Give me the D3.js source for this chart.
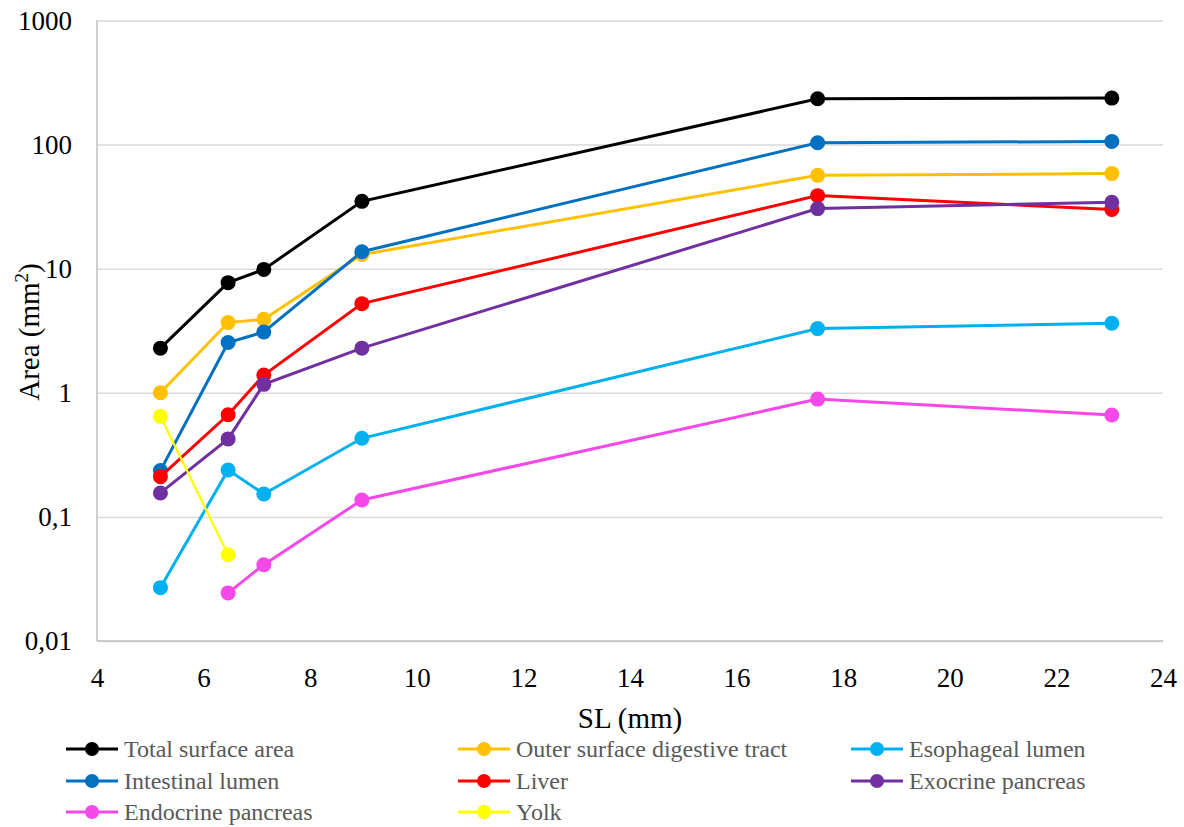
<!DOCTYPE html>
<html>
<head>
<meta charset="utf-8">
<script src="https://cdn.jsdelivr.net/npm/d3@7"></script>
<style>
  body { margin: 0; background: #fff; }
</style>
</head>
<body>
<div id="container"></div>
<script>
// SL (mm) for each sampled stage
let sl = [5.19, 6.46, 7.13, 8.97, 17.52, 23.04];

// areas (mm2), null where there is no measurement
let totalSurface = [2.29, 7.72, 9.87, 34.9, 234, 237];
let outerSurface = [1.0, 3.68, 3.91, 13.0, 56.5, 58.4];
let esophageal = [0.0269, 0.239, 0.153, 0.430, 3.29, 3.63];
let intestinal = [0.236, 2.54, 3.09, 13.7, 103.5, 106];
let liver = [0.211, 0.665, 1.39, 5.23, 38.8, 30.0];
let exocrine = [0.156, 0.425, 1.17, 2.29, 30.5, 34.3];
let endocrine = [null, 0.0244, 0.0412, 0.137, 0.89, 0.662];
let yolk = [0.646, 0.0496, null, null, null, null];

let seriesNames = ["Total surface area", "Outer surface digestive tract", "Esophageal lumen",
  "Intestinal lumen", "Liver", "Exocrine pancreas", "Endocrine pancreas", "Yolk"];
let seriesColors = ["#000000", "#FFC000", "#00B0F0", "#0070C0", "#FF0000", "#7030A0", "#F548E8", "#FFFF00"];
let seriesValues = [totalSurface, outerSurface, esophageal, intestinal, liver, exocrine, endocrine, yolk];

let xTicks = [4, 6, 8, 10, 12, 14, 16, 18, 20, 22, 24];
let yTicks = [0.01, 0.1, 1, 10, 100, 1000];
let yTickLabels = ["0,01", "0,1", "1", "10", "100", "1000"];

let w = 1184;
let h = 827;
let padL = 97, padR = 1163, padT = 20.5, padB = 641;
let serif = "'Liberation Serif', 'Times New Roman', serif";

let viz = d3.select("#container")
  .append("svg")
    .attr("width", w)
    .attr("height", h);

let xScale = d3.scaleLinear().domain([4, 24]).range([padL, padR]);
let yScale = d3.scaleLog().domain([0.01, 1000]).range([padB, padT]);

// gridlines + y labels
let yAxis = d3.axisLeft(yScale)
  .tickValues(yTicks)
  .tickSize(-(padR - padL))
  .tickPadding(25)
  .tickFormat((d, i) => yTickLabels[i]);
let yAxisGroup = viz.append("g")
  .attr("transform", "translate(" + padL + ",0)")
  .call(yAxis);
yAxisGroup.select(".domain").remove();
yAxisGroup.selectAll(".tick line").attr("stroke", "#d9d9d9").attr("stroke-width", 1.5);
yAxisGroup.selectAll(".tick text")
  .style("font-family", serif).style("font-size", "27px").attr("fill", "#000");

// x labels
let xAxis = d3.axisBottom(xScale).tickValues(xTicks).tickSize(0).tickPadding(27);
let xAxisGroup = viz.append("g")
  .attr("transform", "translate(0," + padB + ")")
  .call(xAxis);
xAxisGroup.select(".domain").remove();
xAxisGroup.selectAll(".tick text")
  .style("font-family", serif).style("font-size", "27px").attr("fill", "#000");

// axis lines
viz.append("line").attr("x1", padL).attr("x2", padL).attr("y1", padT).attr("y2", padB)
  .attr("stroke", "#bfbfbf").attr("stroke-width", 1.5);
viz.append("line").attr("x1", padL).attr("x2", padR).attr("y1", padB).attr("y2", padB)
  .attr("stroke", "#bfbfbf").attr("stroke-width", 1.5);

// axis titles
viz.append("text")
  .attr("x", (padL + padR) / 2).attr("y", 728)
  .attr("text-anchor", "middle").attr("fill", "#000")
  .style("font-family", serif).style("font-size", "29px")
  .text("SL (mm)");
let yTitle = viz.append("text")
  .attr("transform", "translate(39,332) rotate(-90)")
  .attr("text-anchor", "middle").attr("fill", "#000")
  .style("font-family", serif).style("font-size", "29px");
yTitle.append("tspan").text("Area (mm");
yTitle.append("tspan").style("font-size", "19px").attr("dy", -11).text("2");
yTitle.append("tspan").attr("dy", 11).text(")");

// series
let lineMaker = d3.line()
  .defined(d => d.v != null)
  .x(d => xScale(d.x))
  .y(d => yScale(d.v));

let graphGroup = viz.append("g").attr("class", "graphGroup");
seriesValues.forEach(function(vals, i){
  let pts = vals.map((v, j) => ({x: sl[j], v: v}));
  let g = graphGroup.append("g");
  g.append("path")
    .datum(pts)
    .attr("fill", "none")
    .attr("stroke", seriesColors[i])
    .attr("stroke-width", i == 7 ? 2.25 : 3)
    .attr("d", lineMaker);
  g.selectAll("circle")
    .data(pts.filter(d => d.v != null))
    .enter()
    .append("circle")
      .attr("cx", d => xScale(d.x))
      .attr("cy", d => yScale(d.v))
      .attr("r", 7.5)
      .attr("fill", seriesColors[i]);
});

// legend
let legendCols = [66, 458, 851];
let legendRows = [749, 781, 812];
let legend = viz.append("g");
seriesNames.forEach(function(name, i){
  let lx = legendCols[i % 3];
  let ly = legendRows[Math.floor(i / 3)];
  let item = legend.append("g").attr("transform", "translate(" + lx + "," + ly + ")");
  item.append("line").attr("x1", 0).attr("x2", 52).attr("y1", 0).attr("y2", 0)
    .attr("stroke", seriesColors[i]).attr("stroke-width", 3);
  item.append("circle").attr("cx", 26).attr("cy", 0).attr("r", 7).attr("fill", seriesColors[i]);
  item.append("text").attr("x", 58).attr("y", 8)
    .attr("fill", "#595959")
    .style("font-family", serif).style("font-size", "24px")
    .text(name);
});
</script>
</body>
</html>
